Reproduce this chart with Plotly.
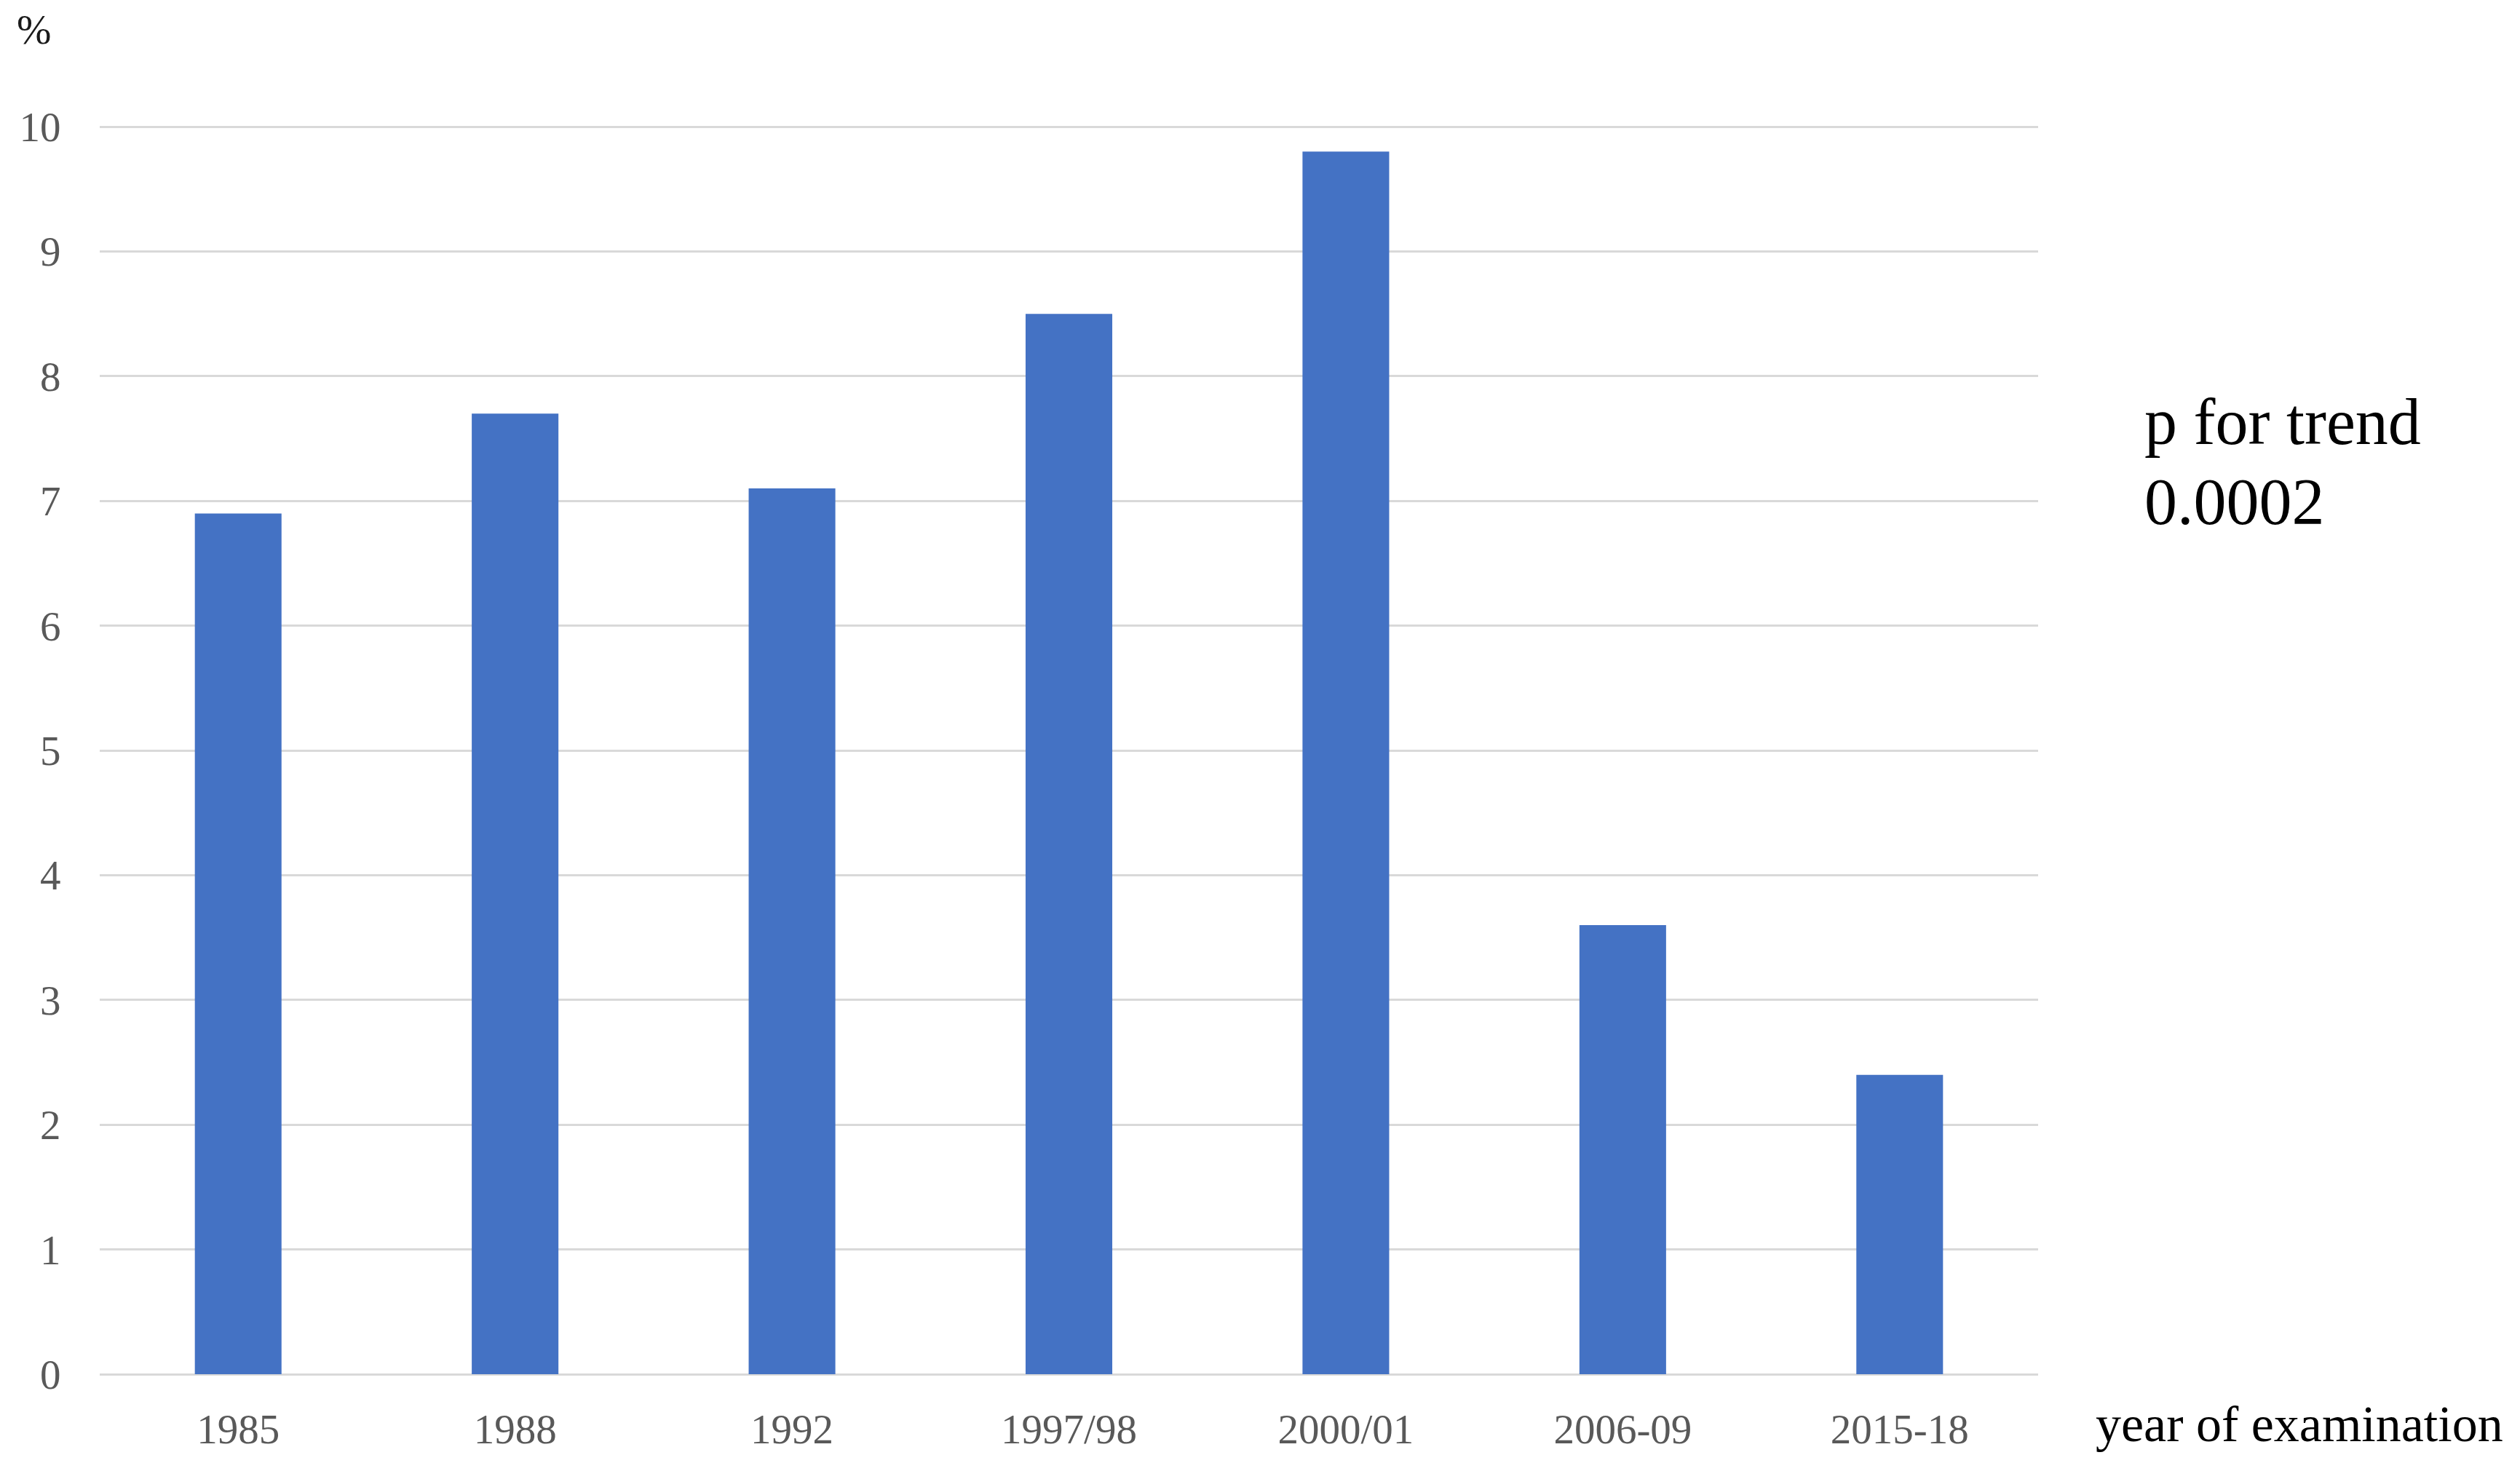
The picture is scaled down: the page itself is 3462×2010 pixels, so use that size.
import plotly.graph_objects as go

categories = ["1985", "1988", "1992", "1997/98", "2000/01", "2006-09", "2015-18"]
values = [6.9, 7.7, 7.1, 8.5, 9.8, 3.6, 2.4]
y_ticks = [0, 1, 2, 3, 4, 5, 6, 7, 8, 9, 10]

FONT = "Liberation Serif, Times New Roman, serif"
W, H = 3462, 2010
BODY = 8  # browser body margin offset
# target plot area in page pixels
PX0, PX1, PY0, PY1 = 137, 2800, 172, 1888
L, T = PX0 - BODY, PY0 - BODY
R, B = W - L - (PX1 - PX0), H - T - (PY1 - PY0)
PW, PH = PX1 - PX0, PY1 - PY0

def px_x(px):
    return (px - PX0) / PW

def px_y(py):
    return (PY1 - py) / PH

fig = go.Figure()
fig.add_trace(go.Bar(
    x=categories, y=values,
    marker=dict(color="#4472C4", line=dict(width=0)),
    hoverinfo="x+y",
))

fig.update_layout(
    width=W, height=H,
    margin=dict(l=L, r=R, t=T, b=B, pad=0),
    paper_bgcolor="white", plot_bgcolor="white",
    bargap=0.687,
    showlegend=False,
    font=dict(family=FONT, size=57, color="#595959"),
)

fig.update_xaxes(
    type="category",
    showgrid=False, showline=False, zeroline=False,
    ticks="outside", ticklen=26, tickcolor="rgba(0,0,0,0)",
    tickfont=dict(family=FONT, size=57, color="#595959"),
)
fig.update_yaxes(
    range=[0, 10.012], tickvals=y_ticks,
    showgrid=True, gridcolor="#D9D9D9", gridwidth=3,
    zeroline=True, zerolinecolor="#D9D9D9", zerolinewidth=3,
    showline=False,
    ticks="outside", ticklen=41, tickcolor="rgba(0,0,0,0)",
    tickfont=dict(family=FONT, size=57, color="#595959"),
)

fig.add_annotation(
    text="%", xref="paper", yref="paper",
    x=px_x(46), y=px_y(40), xanchor="center", yanchor="middle",
    showarrow=False, font=dict(family=FONT, size=57, color="#1a1a1a"),
)
fig.add_annotation(
    text="p for trend", xref="paper", yref="paper",
    x=px_x(2944), y=px_y(528), xanchor="left", yanchor="top", align="left",
    showarrow=False, font=dict(family=FONT, size=90, color="black"),
)
fig.add_annotation(
    text="0.0002", xref="paper", yref="paper",
    x=px_x(2944), y=px_y(638), xanchor="left", yanchor="top", align="left",
    showarrow=False, font=dict(family=FONT, size=90, color="black"),
)
fig.add_annotation(
    text="year of examination", xref="paper", yref="paper",
    x=px_x(2877), y=px_y(1956), xanchor="left", yanchor="middle",
    showarrow=False, font=dict(family=FONT, size=70, color="black"),
)

fig.write_html("out.html")
